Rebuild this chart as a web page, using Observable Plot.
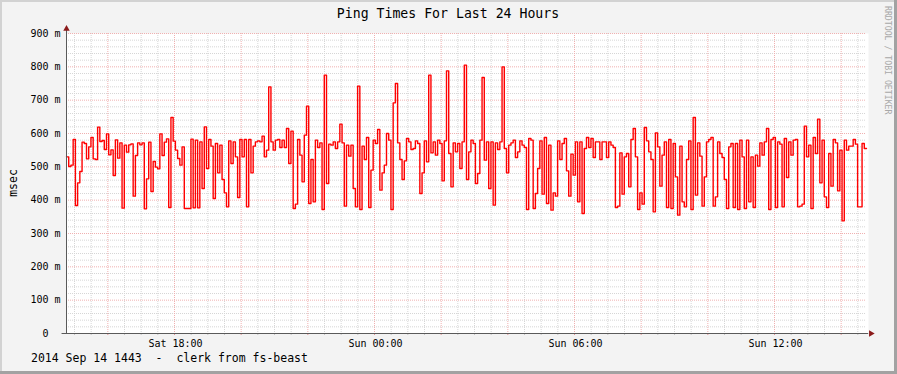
<!DOCTYPE html>
<html>
<head>
<meta charset="utf-8">
<script src="https://cdn.jsdelivr.net/npm/d3@7"></script>
<script src="https://cdn.jsdelivr.net/npm/@observablehq/plot@0.6"></script>
<style>
html, body { margin: 0; padding: 0; background: #f3f3f3; }
#chart { width: 897px; height: 374px; }
svg { display: block; }
</style>
</head>
<body>
<div id="chart"></div>
<script>
// ---- texts ----
const titleText = "Ping Times For Last 24 Hours";
const yLabelText = "msec";
const footerText = "2014 Sep 14 1443  -  clerk from fs-beast";
const watermarkText = "RRDTOOL / TOBI OETIKER";

// ---- time axis ----
const startTime = new Date(Date.UTC(2014, 8, 13, 14, 45, 36));
const endTime = new Date(Date.UTC(2014, 8, 14, 14, 45, 36));
const stepMinutes = 4;
const xLabelTimes = [
  new Date(Date.UTC(2014, 8, 13, 18, 0)),
  new Date(Date.UTC(2014, 8, 14, 0, 0)),
  new Date(Date.UTC(2014, 8, 14, 6, 0)),
  new Date(Date.UTC(2014, 8, 14, 12, 0))
];

// ---- value axis ----
const yTicks = [0, 100, 200, 300, 400, 500, 600, 700, 800, 900];

// ---- ping times (ms), one value every 4 minutes ----
const pingMsec = [
  530,501,505,582,384,452,486,574,570,524,560,588,524,522,619,576,579,552,599,536,
  551,474,581,526,572,376,565,544,566,569,412,534,572,566,572,374,464,574,426,516,
  499,494,599,534,574,584,378,648,577,550,525,505,560,375,375,375,583,377,580,377,
  575,435,620,495,582,562,405,570,482,565,462,422,380,578,510,575,530,408,582,530,
  582,380,582,482,562,575,578,575,592,530,550,740,575,550,580,582,558,580,558,615,
  510,607,375,388,582,535,455,595,682,390,522,395,580,558,572,372,775,450,568,565,
  575,555,575,628,572,382,565,532,565,435,380,742,372,562,522,588,378,490,580,570,
  612,430,482,505,600,580,372,692,750,572,522,462,518,585,575,552,555,578,570,420,
  482,578,515,775,542,575,535,580,570,458,578,788,540,440,572,545,570,495,575,805,
  462,545,580,570,450,480,580,768,520,575,435,575,385,572,552,575,800,555,482,565,
  572,580,528,545,578,565,558,372,585,580,375,420,495,578,418,588,390,565,370,422,
  412,578,522,570,585,488,412,538,475,575,395,575,360,555,588,558,585,528,575,575,
  522,575,575,528,575,565,558,378,382,542,418,530,540,440,582,615,530,372,422,388,
  618,578,545,522,365,602,560,442,535,575,378,582,375,570,470,355,562,395,380,522,
  578,372,648,415,572,532,382,470,575,582,588,382,410,575,540,528,462,375,560,570,
  378,570,372,580,530,375,580,395,530,378,535,502,572,535,575,615,372,582,588,378,
  575,568,380,585,468,575,535,580,582,380,382,388,622,530,565,375,588,540,643,452,
  580,410,378,540,442,582,572,428,550,338,580,550,562,562,582,568,380,380,570,555
];

// ---- build table ----
const data = pingMsec.map((v, i) => ({
  time: new Date(startTime.getTime() + i * stepMinutes * 60000),
  value: v
}));
// hold the last value until the end of the window (step line)
data.push({ time: endTime, value: pingMsec[pingMsec.length - 1] });

// ---- grid positions ----
const minorY = d3.range(20, 900, 20).filter(v => v % 100 !== 0);
const majorY = yTicks.filter(v => v > 0);
const majorX = d3.utcHour.every(2).range(startTime, endTime);
const minorX = d3.utcMinute.every(30).range(startTime, endTime)
  .filter(d => !(d.getUTCMinutes() === 0 && d.getUTCHours() % 2 === 0));

const axisColor = "#5a5a5a";
const arrowColor = "#8b1a1a";
const lineColor = "#ff0000";
const minorGridColor = "#d6d6d6";
const majorGridColor = "#f0b0b0";
const mono = "DejaVu Sans Mono";

const minute = 60000;

const chart = Plot.plot({
  width: 897,
  height: 374,
  marginLeft: 66,
  marginRight: 31,
  marginTop: 33,
  marginBottom: 41,
  style: { background: "#f3f3f3", fontFamily: mono, color: "#000", overflow: "visible" },
  x: { type: "utc", domain: [startTime, endTime] },
  y: { domain: [0, 900] },
  marks: [
    Plot.frame({ fill: "white", stroke: "none", insetRight: -2 }),
    Plot.ruleY(minorY, { stroke: minorGridColor, strokeDasharray: "1,1" }),
    Plot.ruleX(minorX, { stroke: minorGridColor, strokeDasharray: "1,1" }),
    Plot.ruleY(majorY, { stroke: majorGridColor, strokeDasharray: "1,1" }),
    Plot.ruleX(majorX, { stroke: majorGridColor, strokeDasharray: "1,1" }),
    // small ticks under the time axis
    Plot.ruleX(minorX, { y1: 0, y2: -6, stroke: "#c4c4c4" }),
    Plot.ruleX(majorX, { y1: 0, y2: -6, stroke: "#e39393" }),
    // the data
    Plot.line(data, { x: "time", y: "value", curve: "step-after", stroke: lineColor, strokeWidth: 1.4 }),
    // axis lines
    Plot.ruleX([startTime], { y1: 0, y2: 912, stroke: axisColor }),
    Plot.ruleY([0], {
      x1: new Date(startTime.getTime() - 8 * minute),
      x2: new Date(endTime.getTime() + 4 * minute),
      stroke: axisColor
    }),
    Plot.dot([{ t: startTime, v: 914 }], { x: "t", y: "v", symbol: "triangle", r: 2.4, fill: arrowColor, stroke: "none" }),
    Plot.dot([{ t: new Date(endTime.getTime() + 8 * minute), v: 0 }], { x: "t", y: "v", symbol: "triangle", r: 2.4, rotate: 90, fill: arrowColor, stroke: "none" }),
    // tick labels
    Plot.axisY({
      ticks: yTicks, tickSize: 0, tickPadding: 6, fontSize: 10,
      tickFormat: d => d === 0 ? "0\u00a0\u00a0" : `${d} m`, label: null
    }),
    Plot.axisX({
      ticks: xLabelTimes, tickSize: 0, tickPadding: 6, fontSize: 10, dx: 1,
      tickFormat: d3.utcFormat("%a %H:%M"), label: null
    })
  ]
});

const svg = d3.select(chart);

// canvas border (light top/left, dark bottom/right)
svg.append("rect").attr("x", 0).attr("y", 0).attr("width", 897).attr("height", 2).attr("fill", "#d2d2d2");
svg.append("rect").attr("x", 0).attr("y", 0).attr("width", 2).attr("height", 374).attr("fill", "#d2d2d2");
svg.append("rect").attr("x", 894).attr("y", 0).attr("width", 3).attr("height", 374).attr("fill", "#a2a2a2");
svg.append("rect").attr("x", 0).attr("y", 371).attr("width", 897).attr("height", 3).attr("fill", "#a2a2a2");

// title
svg.append("text")
  .attr("x", 448).attr("y", 18)
  .attr("text-anchor", "middle")
  .style("font-family", mono).style("font-size", "13.2px").attr("fill", "#000")
  .text(titleText);

// y label
svg.append("text")
  .attr("transform", "translate(12.5,183) rotate(-90)")
  .attr("text-anchor", "middle").attr("dy", "0.35em")
  .style("font-family", mono).style("font-size", "11.5px").attr("fill", "#000")
  .text(yLabelText);

// footer
svg.append("text")
  .attr("x", 31).attr("y", 362)
  .attr("text-anchor", "start")
  .attr("xml:space", "preserve")
  .style("white-space", "pre")
  .style("font-family", mono).style("font-size", "11.5px").attr("fill", "#000")
  .text(footerText);

// watermark
svg.append("text")
  .attr("transform", "translate(888,6) rotate(90)")
  .attr("text-anchor", "start").attr("dy", "0.35em")
  .style("font-family", mono).style("font-size", "8.2px").attr("fill", "#a8a8a8")
  .text(watermarkText);

document.getElementById("chart").appendChild(chart);
</script>
</body>
</html>
